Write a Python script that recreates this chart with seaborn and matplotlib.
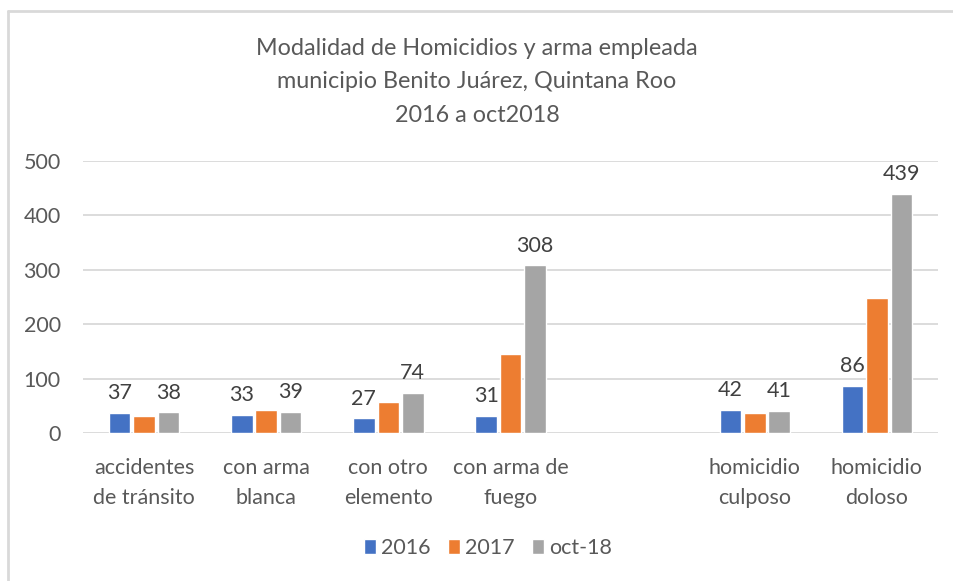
import pandas as pd
import matplotlib.pyplot as plt
import seaborn as sns
from matplotlib.lines import Line2D

# ----------------------------
# Datos
# ----------------------------
categorias = [
    "accidentes\nde tránsito",
    "con arma\nblanca",
    "con otro\nelemento",
    "con arma de\nfuego",
    "",
    "homicidio\nculposo",
    "homicidio\ndoloso",
]
series = ["2016", "2017", "oct-18"]
valores_2016 = [37, 33, 27, 31, None, 42, 86]
valores_2017 = [32, 42, 57, 145, None, 37, 248]   # sin etiqueta en el original
valores_oct18 = [38, 39, 74, 308, None, 41, 439]
series_con_etiqueta = ["2016", "oct-18"]
colores = ["#4472C4", "#ED7D31", "#A5A5A5"]
titulo = "Modalidad de Homicidios y arma empleada\nmunicipio Benito Juárez, Quintana Roo\n2016 a oct2018"

gris_texto = "#595959"
gris_linea = "#D9D9D9"

filas = []
for serie, vals in zip(series, [valores_2016, valores_2017, valores_oct18]):
    for cat, v in zip(categorias, vals):
        if v is not None:
            filas.append({"categoria": cat, "serie": serie, "valor": v})
df = pd.DataFrame(filas)

# ----------------------------
# Grafica
# ----------------------------
sns.set_style("white")
plt.rcParams["font.family"] = ["Lato", "DejaVu Sans"]

fig = plt.figure(figsize=(9.54, 5.81), dpi=100)
ax = fig.add_axes([83 / 954, 1 - 433 / 581, (938 - 83) / 954, (433 - 160.7) / 581])

sns.barplot(data=df, x="categoria", y="valor", hue="serie", order=categorias,
            hue_order=series, palette=colores, width=0.6, gap=0.12,
            saturation=1, ax=ax, legend=True)

ax.set_ylim(0, 500)
ax.set_xlim(-0.5, len(categorias) - 0.5)
ax.set_yticks([0, 100, 200, 300, 400, 500])
ax.yaxis.grid(True, color=gris_linea, linewidth=1.3)
ax.set_axisbelow(True)
for s in ax.spines.values():
    s.set_visible(False)
ax.set_xlabel("")
ax.set_ylabel("")
ax.tick_params(axis="y", length=0, pad=16, labelsize=15.5, labelcolor=gris_texto)
ax.tick_params(axis="x", length=0, pad=18, labelsize=15.5, labelcolor=gris_texto)
for lbl in ax.get_xticklabels():
    lbl.set_linespacing(1.6)

# etiquetas de datos (solo 2016 y oct-18)
for serie, cont in zip(series, ax.containers):
    if serie in series_con_etiqueta:
        ax.bar_label(cont, fmt="%.0f", padding=7, fontsize=15.5, color="#404040")

# leyenda
handles, labels = ax.get_legend_handles_labels()
ax.get_legend().remove()
fig.legend(handles, labels, loc="center", bbox_to_anchor=(488 / 954, 1 - 548 / 581),
           ncol=3, frameon=False, fontsize=15.5, labelcolor=gris_texto,
           handlelength=0.55, handleheight=0.7, handletextpad=0.25, columnspacing=0.8)

fig.text(0.5, 1 - 82 / 581, titulo, ha="center", va="center", fontsize=16.8,
         color=gris_texto, linespacing=1.75)

# borde del area de grafico
fig.add_artist(Line2D([8 / 954, 1], [1 - 11 / 581, 1 - 11 / 581], color=gris_linea,
                      linewidth=2, transform=fig.transFigure))
fig.add_artist(Line2D([8 / 954, 8 / 954], [0, 1 - 11 / 581], color=gris_linea,
                      linewidth=2, transform=fig.transFigure))

fig.savefig("out.png", dpi=100)
plt.close()
